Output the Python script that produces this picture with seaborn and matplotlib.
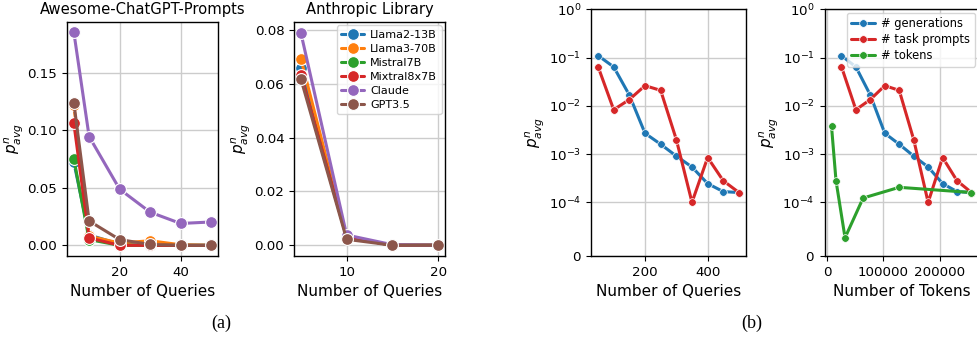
import numpy as np
import pandas as pd
import matplotlib
matplotlib.use("Agg")
import matplotlib.pyplot as plt
import seaborn as sns
from matplotlib.ticker import FixedLocator, NullLocator

# ---------------- data ----------------
models = ["Llama2-13B", "Llama3-70B", "Mistral7B", "Mixtral8x7B", "Claude", "GPT3.5"]

acp_queries = [5, 10, 20, 30, 40, 50]
acp_llama2 = [0.072, 0.009, 0.001, 0.0, 0.0, 0.0]
acp_llama3 = [0.1215, 0.008, 0.002, 0.004, 0.0005, 0.0]
acp_mistral = [0.075, 0.005, 0.0, 0.0, 0.0, 0.0]
acp_mixtral = [0.106, 0.0065, 0.0, 0.0, 0.0, 0.0]
acp_claude = [0.185, 0.0945, 0.0488, 0.0288, 0.019, 0.0203]
acp_gpt35 = [0.1236, 0.0212, 0.005, 0.0008, 0.0, 0.0]

al_queries = [5, 10, 15, 20]
al_llama2 = [0.0658, 0.003, 0.0, 0.0]
al_llama3 = [0.0693, 0.003, 0.0, 0.0]
al_mistral = [0.063, 0.003, 0.0, 0.0]
al_mixtral = [0.0633, 0.003, 0.0, 0.0]
al_claude = [0.0789, 0.0038, 0.0002, 0.0]
al_gpt35 = [0.0618, 0.0022, 0.0, 0.0]

b_queries = [50, 100, 150, 200, 250, 300, 350, 400, 450, 500]
b_gen = [0.11, 0.064, 0.0167, 0.0027, 0.0016, 0.00091, 0.00054, 0.000245, 0.000167, 0.00016]
b_task = [0.065, 0.0083, 0.0135, 0.0262, 0.0209, 0.002, 0.0001, 0.00085, 0.00028, 0.00016]

tok_gen_x = [25600, 51200, 76800, 102400, 128000, 153600, 179200, 204800, 230400, 256000]
tok_task_x = [25600, 51200, 76800, 102400, 128000, 153600, 179200, 204800, 230400, 256000]
tok_tokens_x = [8000, 16000, 32000, 64000, 128000, 256000]
tok_tokens_y = [0.0038, 0.00028, 0.000034, 0.000123, 0.000205, 0.00016]

# ---------------- style ----------------
sns.set_style("ticks")
plt.rcParams["font.family"] = ["DejaVu Sans"]
plt.rcParams["axes.edgecolor"] = "black"
plt.rcParams["xtick.color"] = "black"
plt.rcParams["ytick.color"] = "black"
plt.rcParams["axes.labelcolor"] = "black"
plt.rcParams["text.color"] = "black"

tab = sns.color_palette("tab10")
model_colors = dict(zip(models, tab[:6]))

W, H = 977, 339
fig = plt.figure(figsize=(W / 100, H / 100), dpi=100)


def rect(left, right, top, bottom):
    return [left / W, 1 - bottom / H, (right - left) / W, (bottom - top) / H]


ax1 = fig.add_axes(rect(67, 218, 22, 256))
ax2 = fig.add_axes(rect(294, 445, 22, 256))
ax3 = fig.add_axes(rect(591, 746, 9.3, 256))
ax4 = fig.add_axes(rect(824.5, 978.5, 9.3, 256))

TICK = 9.6
LAB = 11
ylab = r"$p^{n}_{avg}$"

# panel (a) left
df1 = pd.DataFrame({
    "x": acp_queries * 6,
    "y": acp_llama2 + acp_llama3 + acp_mistral + acp_mixtral + acp_claude + acp_gpt35,
    "model": sum([[m] * len(acp_queries) for m in models], []),
})
sns.lineplot(data=df1, x="x", y="y", hue="model", hue_order=models, palette=model_colors,
             marker="o", markersize=8.5, markeredgecolor="white", markeredgewidth=0.8,
             linewidth=2.2, ax=ax1, legend=False)
ax1.set_title("Awesome-ChatGPT-Prompts", fontsize=10.6)
ax1.set_xticks([20, 40])
ax1.set_yticks([0.0, 0.05, 0.10, 0.15])
ax1.set_yticklabels(["0.00", "0.05", "0.10", "0.15"])
ax1.set_xlim(2.75, 52.25)
ax1.set_ylim(-0.00925, 0.194)

# panel (a) right
df2 = pd.DataFrame({
    "x": al_queries * 6,
    "y": al_llama2 + al_llama3 + al_mistral + al_mixtral + al_claude + al_gpt35,
    "model": sum([[m] * len(al_queries) for m in models], []),
})
sns.lineplot(data=df2, x="x", y="y", hue="model", hue_order=models, palette=model_colors,
             marker="o", markersize=8.5, markeredgecolor="white", markeredgewidth=0.8,
             linewidth=2.2, ax=ax2)
ax2.set_title("Anthropic Library", fontsize=10.6)
ax2.set_xticks([10, 20])
ax2.set_yticks([0.0, 0.02, 0.04, 0.06, 0.08])
ax2.set_yticklabels(["0.00", "0.02", "0.04", "0.06", "0.08"])
ax2.set_xlim(4.25, 20.75)
ax2.set_ylim(-0.004, 0.0829)
ax2.legend(loc="upper right", fontsize=8.0, title=None, handlelength=2.0,
           borderaxespad=0.3, labelspacing=0.36, handletextpad=0.6)

for ax in (ax1, ax2):
    ax.set_xlabel("Number of Queries", fontsize=LAB)
    ax.set_ylabel(ylab, fontsize=LAB, labelpad=2)

# panel (b) left
df3 = pd.DataFrame({
    "x": b_queries + b_queries,
    "y": b_gen + b_task,
    "series": ["# generations"] * len(b_queries) + ["# task prompts"] * len(b_queries),
})
sns.lineplot(data=df3, x="x", y="y", hue="series",
             palette={"# generations": tab[0], "# task prompts": tab[3]},
             marker="o", markersize=5.5, markeredgecolor="white", markeredgewidth=0.5,
             linewidth=2.2, ax=ax3, legend=False)
ax3.set_xticks([200, 400])
ax3.set_xlim(27.5, 522.5)
ax3.set_xlabel("Number of Queries", fontsize=LAB)

# panel (b) right
df4 = pd.DataFrame({
    "x": tok_gen_x + tok_task_x + tok_tokens_x,
    "y": b_gen + b_task + tok_tokens_y,
    "series": ["# generations"] * len(tok_gen_x) + ["# task prompts"] * len(tok_task_x)
              + ["# tokens"] * len(tok_tokens_x),
})
sns.lineplot(data=df4, x="x", y="y", hue="series",
             palette={"# generations": tab[0], "# task prompts": tab[3], "# tokens": tab[2]},
             marker="o", markersize=5.5, markeredgecolor="white", markeredgewidth=0.5,
             linewidth=2.2, ax=ax4)
ax4.set_xticks([0, 100000, 200000])
ax4.set_xticklabels(["0", "100000", "200000"])
ax4.set_xlim(-4400, 268400)
ax4.set_xlabel("Number of Tokens", fontsize=LAB)
ax4.legend(loc="upper right", fontsize=8.3, title=None, handlelength=2.0,
           borderaxespad=0.3, labelspacing=0.25, handletextpad=0.6)

for ax in (ax3, ax4):
    ax.set_yscale("symlog", linthresh=1e-4, linscale=1)
    ax.set_ylim(0, 1)
    ax.yaxis.set_major_locator(FixedLocator([0, 1e-4, 1e-3, 1e-2, 1e-1, 1]))
    ax.yaxis.set_minor_locator(NullLocator())
    ax.set_ylabel(ylab, fontsize=LAB, labelpad=2)

for ax in (ax1, ax2, ax3, ax4):
    ax.grid(True, color="#cccccc", linewidth=1.0)
    ax.set_axisbelow(True)
    ax.tick_params(labelsize=TICK, length=3.5, width=0.8)
    for s in ax.spines.values():
        s.set_color("black")
        s.set_linewidth(1.0)

fig.text(221 / W, 1 - 323 / H, "(a)", ha="center", va="center",
         fontsize=13, family=["Liberation Serif", "DejaVu Serif"])
fig.text(752 / W, 1 - 323 / H, "(b)", ha="center", va="center",
         fontsize=13, family=["Liberation Serif", "DejaVu Serif"])

fig.savefig("out.png", dpi=100)
